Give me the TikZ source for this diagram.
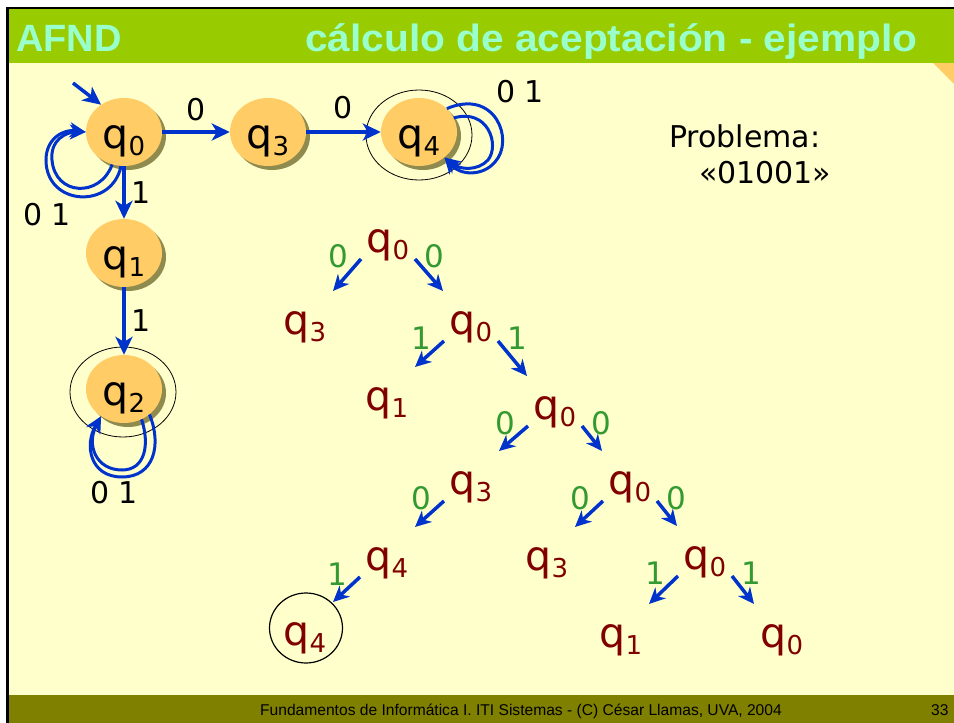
\documentclass[tikz,border=0pt]{standalone}
\usepackage{fontspec}
\setmainfont{DejaVu Sans}
\newfontfamily\arialfont{Liberation Sans}
\usepackage{tikz}
\usetikzlibrary{arrows.meta,shapes.geometric,shadows}

\definecolor{hdrgreen}{HTML}{99CC00}
\definecolor{hdrtext}{HTML}{99FFCC}
\definecolor{cream}{HTML}{FFFFCC}
\definecolor{footolive}{HTML}{808000}
\definecolor{stfill}{HTML}{FFCC66}
\definecolor{stshadow}{HTML}{8F8A4E}
\definecolor{edgeblue}{HTML}{0033CC}
\definecolor{treered}{HTML}{800000}
\definecolor{lblgreen}{HTML}{339933}

\newcommand{\qst}[1]{q\raisebox{-7pt}{\fontsize{26}{26}\selectfont #1}}
\newcommand{\stlab}[1]{\smash{\raisebox{-16pt}{\qst{#1}}}}

\tikzset{
  state/.style={ellipse, fill=stfill, minimum width=76pt, minimum height=68pt, inner sep=0pt,
    font=\fontsize{41}{41}\selectfont,
    drop shadow={shadow xshift=4pt, shadow yshift=-4pt, fill=stshadow, opacity=1}},
  ring/.style={ellipse, draw=black, line width=0.8pt, minimum width=106pt, minimum height=90pt},
  arr/.style={draw=edgeblue, line width=3.5pt, -{Stealth[length=18pt,width=17pt,inset=5pt]}},
  looparr/.style={draw=edgeblue, line width=3pt, -{Stealth[length=16pt,width=15pt,inset=5pt]}},
  lbl/.style={font=\fontsize{30}{30}\selectfont, inner sep=2pt},
  tq/.style={anchor=base, inner sep=0pt, text=treered, font=\fontsize{41}{41}\selectfont},
  tl/.style={anchor=base, inner sep=0pt, text=lblgreen, font=\fontsize{31}{31}\selectfont},
  tarr/.style={draw=edgeblue, line width=3.5pt, -{Stealth[length=16pt,width=15pt,inset=5pt]}}
}

\begin{document}
\begin{tikzpicture}[x=1pt,y=-1pt]
\useasboundingbox (0,0) rectangle (954,723);
\fill[white] (0,0) rectangle (954,723);
\fill[black] (6,7) rectangle (954,723);
\fill[hdrgreen] (9,9) rectangle (954,63);
\fill[cream] (9,63) rectangle (954,695);
\fill[footolive] (9,695) rectangle (954,723);
\fill[stfill] (933,63) -- (954,63) -- (954,84) -- cycle;

\node[anchor=base west, inner sep=0pt, text=hdrtext, font=\arialfont\bfseries\fontsize{38}{38}\selectfont] (ttl) at (16,51) {AFND};
\node[anchor=base west, inner sep=0pt, text=hdrtext, font=\arialfont\bfseries\fontsize{38}{38}\selectfont] (sub) at (305,51) {\scalebox{1.07}[1]{cálculo de aceptación - ejemplo}};
\node[anchor=base, inner sep=0pt, font=\arialfont\fontsize{15.6}{15.6}\selectfont] (foot) at (521,715) {Fundamentos de Informática I. ITI Sistemas - (C) César Llamas, UVA, 2004};
\node[anchor=base west, inner sep=0pt, font=\arialfont\fontsize{15.6}{15.6}\selectfont] (pg) at (931,715) {33};

% automaton
\node[ring] (q4r) at (419,135) {};
\node[ring] (q2r) at (123,392) {};
\node[state] (q0) at (124,132) {\stlab{0}};
\node[state] (q3) at (268,132) {\stlab{3}};
\node[state] (q4) at (419,132) {\stlab{4}};
\node[state] (q1) at (124,253) {\stlab{1}};
\node[state] (q2) at (124,389) {\stlab{2}};

\coordinate (init) at (73,83);
\draw[arr] (init) -- (q0.130);
\draw[arr] (q0) -- node[lbl, above=7pt] (l03) {0} (q3);
\draw[arr] (q3) -- node[lbl, above=9pt] (l34) {0} (q4);
\draw[arr] (q0) -- node[lbl, right=4pt] (l01) {1} (q1);
\draw[arr] (q1) -- node[lbl, right=4pt] (l12) {1} (q2);

\draw[looparr] (q0.250) .. controls (100,198) and (55,196) .. (52,160) .. controls (50,140) and (66,132) .. (q0.180);
\draw[looparr] (q0.265) .. controls (112,210) and (46,206) .. (46,160) .. controls (46,138) and (64,129) .. (q0.180);
\draw[looparr] (q4.40) .. controls (495,88) and (515,140) .. (495,162) .. controls (482,177) and (460,175) .. (q4.-45);
\draw[looparr] (q4.22) .. controls (488,108) and (500,145) .. (488,160) .. controls (478,171) and (460,170) .. (q4.-45);
\draw[looparr] (q2.-60) .. controls (150,445) and (145,470) .. (122,470) .. controls (96,470) and (86,445) .. (q2.-130);
\draw[looparr] (q2.-45) .. controls (162,445) and (154,477) .. (122,477) .. controls (90,477) and (84,445) .. (q2.-130);

\node[lbl] (lq0) at (47,215) {0 1};
\node[lbl] (lq4) at (520,92) {0 1};
\node[lbl] (lq2) at (114,493) {0 1};

\node[lbl, anchor=base west] (prob) at (667,147) {Problema:};
\node[lbl, anchor=base west] (word) at (697,183) {«01001»};

% computation tree
\foreach \n/\x/\y/\s in {r/388/252/0, a/305/334/3, b/471/334/0, c/387/410/1, d/555/419/0, e/471/494/3, f/630/494/0, g/387/570/4, h/547/570/3, i/705/569/0, j/305/645/4, k/621/647/1, l/782/647/0}
  \node[tq] (\n) at (\x,\y) {\qst{\s}};
\node[draw, ellipse, line width=1.2pt, minimum width=73pt, minimum height=70pt] (jr) at ([shift={(1,-17)}]j.base) {};

\foreach \pa/\ch/\dir/\lab in {r/a/-1/0, r/b/1/0, b/c/-1/1, b/d/1/1, d/e/-1/0, d/f/1/0, e/g/-1/0, f/h/-1/0, f/i/1/0, g/j/-1/1, i/k/-1/1, i/l/1/1} {
  \draw[tarr] ([shift={(27*\dir,7)}]\pa.base) -- ([shift={(-28*\dir,-43)}]\ch.base);
  \node[tl] (lb\pa\ch) at ([shift={(48*\dir-2,15)}]\pa.base) {\lab};
}
\end{tikzpicture}
\end{document}
